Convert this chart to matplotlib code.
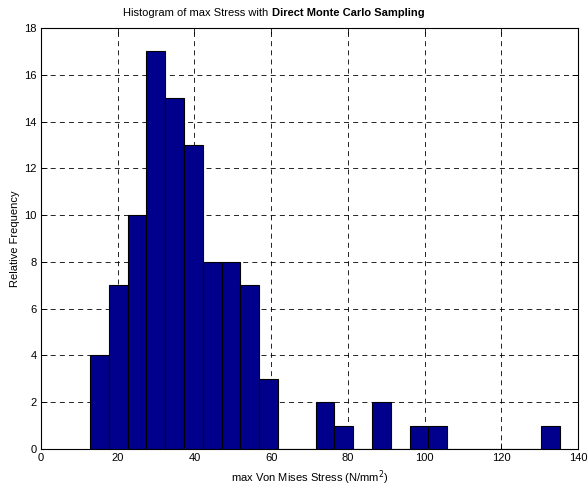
import numpy as np
import matplotlib
matplotlib.use('Agg')
import matplotlib.pyplot as plt

# histogram: 25 bins starting at 12.8, width 4.9
bin_start = 12.8
bin_width = 4.9
counts = [4, 7, 10, 17, 15, 13, 8, 8, 7, 3, 0, 0, 2, 1, 0, 2, 0, 1, 1, 0, 0, 0, 0, 0, 1]
x_ticks = [0, 20, 40, 60, 80, 100, 120, 140]
y_ticks = [0, 2, 4, 6, 8, 10, 12, 14, 16, 18]

plt.rcParams['font.family'] = ['Liberation Sans', 'DejaVu Sans']
plt.rcParams['font.size'] = 8

fig = plt.figure(figsize=(5.88, 4.91), dpi=100)
ax = fig.add_axes([41/588, 1-449/491, 537/588, 421/491])

lefts = bin_start + bin_width*np.arange(len(counts))
ax.bar(lefts, counts, width=bin_width, align='edge', color='#00008c',
       edgecolor='black', linewidth=0.8, zorder=3)

ax.set_xlim(0, 140)
ax.set_ylim(0, 18)
ax.set_xticks(x_ticks)
ax.set_yticks(y_ticks)
ax.grid(True, color='black', linestyle=(0, (6, 5)), linewidth=0.6, zorder=0)
ax.set_axisbelow(True)
ax.tick_params(direction='in', top=True, right=True, length=4, width=0.6, pad=3)
for s in ax.spines.values():
    s.set_linewidth(0.8)

ax.set_xlabel('max Von Mises Stress (N/mm$^2$)', labelpad=4)
ax.set_ylabel('Relative Frequency', labelpad=3)

fig.text(268/588, 1-13/491, 'Histogram of max Stress with', ha='right', va='center', fontsize=8)
fig.text(272/588, 1-13/491, 'Direct Monte Carlo Sampling', ha='left', va='center',
         fontsize=8, fontweight='bold')

fig.savefig('out.png', dpi=100)
